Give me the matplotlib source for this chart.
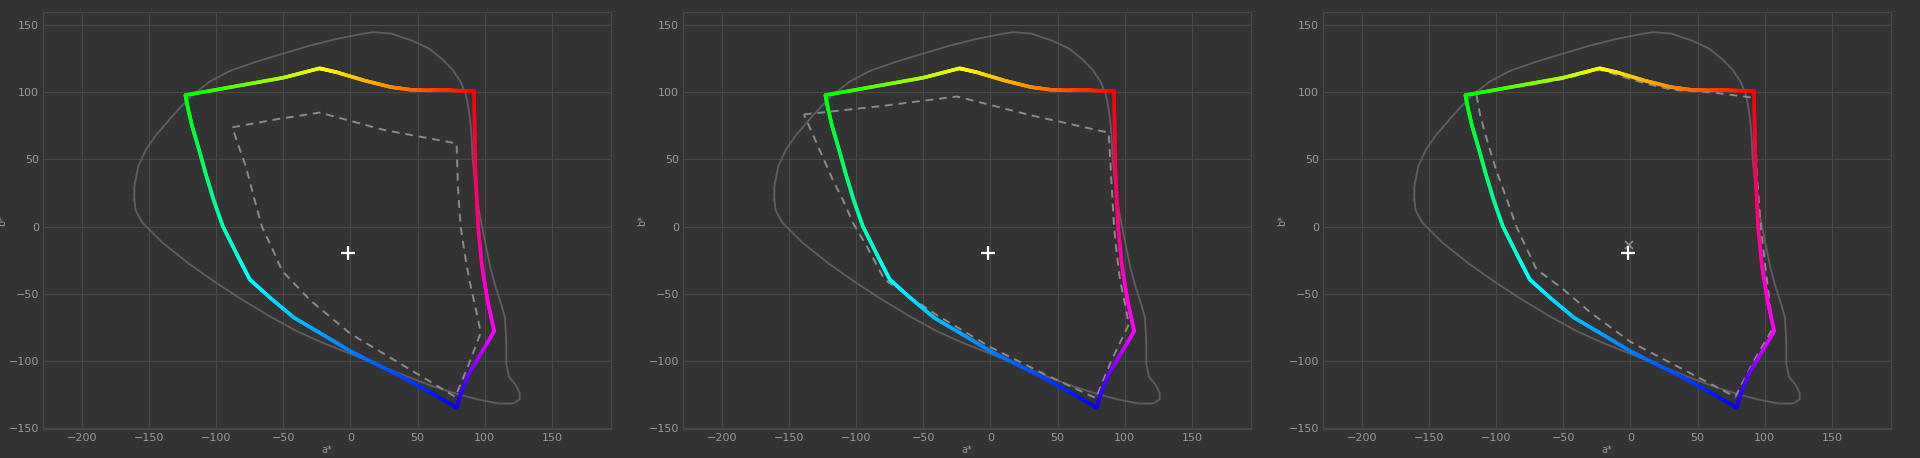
import numpy as np
import matplotlib
matplotlib.use("Agg")
import matplotlib.pyplot as plt
from matplotlib.collections import LineCollection
import colorsys

# Outer (spectral locus-like) boundary, a*, b*
outer_a = [-161, -161, -158, -152, -145, -133, -120, -105, -90, -70, -50, -30, -10, 5, 17, 30, 45, 58, 68, 76, 82, 86, 88, 90, 91, 93, 96, 100, 104, 108, 112, 115, 116, 116, 118, 123, 126, 126, 121, 110, 95, 80, 61, 40, 20, 0, -20, -40, -60, -80, -100, -120, -140, -155, -160, -161]
outer_b = [20, 30, 45, 58, 68, 82, 96, 108, 116, 123, 129, 135, 140, 143, 145, 144, 139, 133, 125, 117, 108, 98, 88, 70, 50, 30, 10, -10, -30, -45, -57, -68, -85, -102, -112, -118, -124, -129, -132, -132, -129, -125, -119, -111, -103, -95, -87, -78, -67, -55, -42, -28, -12, 3, 12, 20]

# Main colour gamut boundary: red -> yellow -> green -> cyan -> blue -> magenta -> red
main_a = [92, 75, 60, 45, 30, 10, -10, -23, -50, -78, -100, -123, -121, -118, -113, -108, -102, -95, -85, -75, -60, -42, -20, 0, 20, 40, 60, 79, 83, 88, 97, 107, 102, 98, 95, 93, 92.5, 92]
main_b = [101, 101.5, 101.5, 102, 104, 109, 115, 118, 111, 106, 102, 98, 88, 75, 58, 40, 20, 0, -20, -39.5, -53, -68, -81, -93, -103, -113, -124, -135, -122, -110, -95, -78, -55, -30, 0, 42, 70, 101]
# indices of primary/secondary corners and their hues
key_idx = [0, 7, 11, 19, 27, 31, 37]
key_hue = [0.0, 1/6, 1/3, 1/2, 2/3, 5/6, 1.0]

# Comparison gamuts (dashed), one per panel
cmp1_a = [-88, -55, -23, 25, 79, 80, 82, 85, 88.5, 93, 97, 88, 78, 40, 0, -30, -51, -58, -66, -72, -78, -84, -88]
cmp1_b = [74, 80, 85, 72, 62, 30, 0, -20, -40, -60, -79, -103, -127, -104, -80, -55, -33, -17, 0, 22, 45, 62, 74]
cmp2_a = [-139, -80, -25, 30, 88, 90, 92, 94, 96.5, 100, 103, 90, 78.5, 40, 0, -40, -79, -92, -102, -110, -118, -125, -132, -139]
cmp2_b = [83.6, 90, 97, 83, 70, 35, 0, -20, -40, -57, -73, -100, -128, -110, -90, -66, -39.5, -15, 2, 20, 36, 52, 68, 83.6]
cmp3_a = [-115, -78, -50, -23, -10, 10, 31, 61, 92, 93, 94, 97, 101, 106, 92, 78, 40, 0, -30, -51, -70, -78, -85, -92, -100, -107, -112, -115]
cmp3_b = [100, 105, 110, 117, 113, 107, 102, 100, 96, 70, 40, 0, -35, -76, -100, -127, -107, -86, -64, -46, -32, -15, 0, 20, 42, 65, 83, 100]

white_pt = (-2, -20)
x_pt3 = (-1, -14)

xticks = [-200, -150, -100, -50, 0, 50, 100, 150]
yticks = [-150, -100, -50, 0, 50, 100, 150]

BG = "#333333"
fig = plt.figure(figsize=(19.2, 4.58), dpi=100, facecolor=BG)

def hue_line(ax):
    a = np.array(main_a, float); b = np.array(main_b, float)
    d = np.concatenate([[0], np.cumsum(np.hypot(np.diff(a), np.diff(b)))])
    kd = d[key_idx]
    segs, cols = [], []
    for i in range(len(a) - 1):
        n = 20
        t = np.linspace(0, 1, n + 1)
        xs = a[i] + (a[i+1] - a[i]) * t
        ys = b[i] + (b[i+1] - b[i]) * t
        ds = d[i] + (d[i+1] - d[i]) * t
        hs = np.interp(ds, kd, key_hue)
        for j in range(n):
            segs.append([(xs[j], ys[j]), (xs[j+1], ys[j+1])])
            hm = 0.5 * (hs[j] + hs[j+1])
            cols.append(colorsys.hsv_to_rgb(hm % 1.0, 1, 1))
    lc = LineCollection(segs, colors=cols, linewidths=2.6, capstyle='round', zorder=4)
    ax.add_collection(lc)

cmps = [(cmp1_a, cmp1_b), (cmp2_a, cmp2_b), (cmp3_a, cmp3_b)]
for k, (ca, cb) in enumerate(cmps):
    ax = fig.add_axes([(43 + 640 * k) / 1920, 29 / 458, 568 / 1920, 417 / 458])
    ax.set_facecolor(BG)
    ax.set_xlim(-229, 194)
    ax.set_ylim(-151, 160)
    ax.set_xticks(xticks); ax.set_yticks(yticks)
    ax.grid(True, color="#474747", lw=0.8)
    ax.set_axisbelow(True)
    for s in ax.spines.values():
        s.set_color("#474747")
    ax.tick_params(colors="#9a9a9a", labelsize=8, length=0, pad=3)
    ax.set_xlabel("a*", color="#9a9a9a", fontsize=7, labelpad=1)
    ax.set_ylabel("b*", color="#9a9a9a", fontsize=7, labelpad=1)
    ax.plot(outer_a, outer_b, color="#5e5e5e", lw=1.3, zorder=2)
    ax.plot(ca, cb, color="#8a8a8a", lw=1.4, ls=(0, (4, 3)), zorder=3)
    hue_line(ax)
    if k == 2:
        ax.plot(*x_pt3, marker="x", color="#8a8a8a", ms=6, mew=1.2, zorder=5)
    ax.plot(*white_pt, marker="+", color="white", ms=10, mew=1.6, zorder=6)

fig.savefig("out.png", dpi=100, facecolor=BG)
